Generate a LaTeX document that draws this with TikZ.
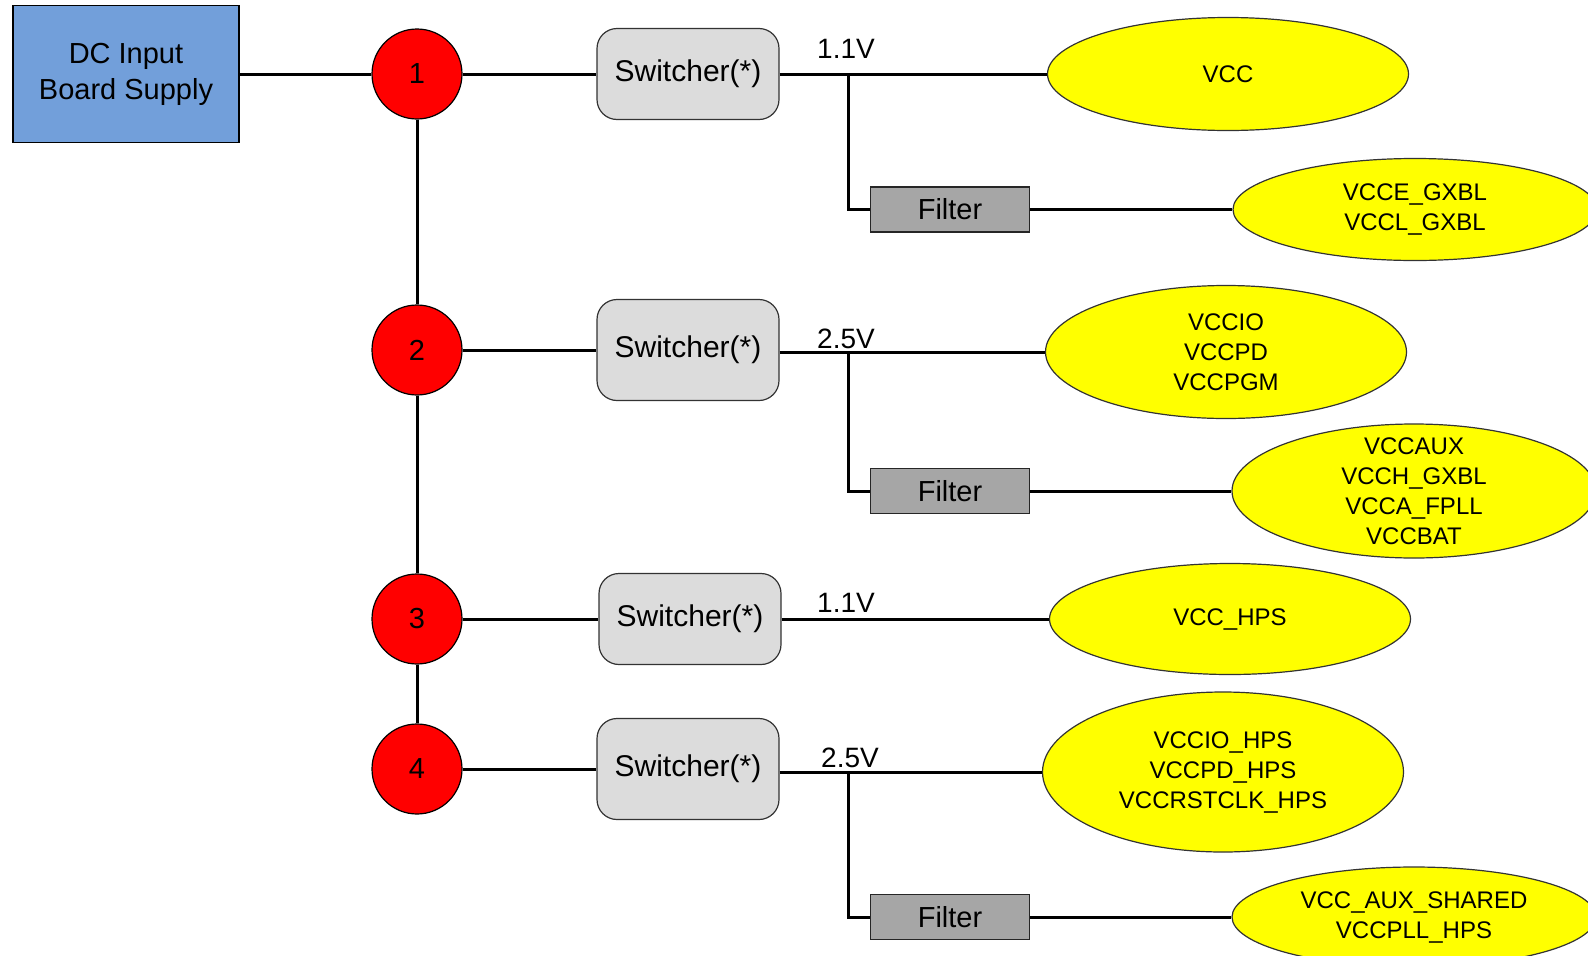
\documentclass[tikz,border=0pt]{standalone}
\usepackage{fontspec}
\setmainfont{Liberation Sans}
\usetikzlibrary{shapes.geometric}
\definecolor{dcblue}{RGB}{114,159,218}
\definecolor{swgrey}{RGB}{220,220,220}
\definecolor{flgrey}{RGB}{166,166,166}
\definecolor{railyellow}{RGB}{255,255,0}
\tikzset{
  conn/.style={line width=3pt, black},
  dcbox/.style={draw=black, line width=1.5pt, fill=dcblue, minimum width=226pt, minimum height=137pt, inner sep=0pt, align=center, font=\fontsize{29}{36}\selectfont},
  hub/.style={circle, draw=black, line width=1.2pt, fill=red, minimum size=90pt, inner sep=0pt, font=\fontsize{29}{32}\selectfont},
  switcher/.style={draw=black!80, line width=1.2pt, fill=swgrey, rounded corners=20pt, minimum width=182pt, minimum height=91pt, inner sep=0pt, font=\fontsize{30}{34}\selectfont},
  filterbox/.style={draw=black!85, line width=1.5pt, fill=flgrey, minimum width=159pt, minimum height=45pt, inner sep=0pt, font=\fontsize{29}{32}\selectfont},
  rail/.style={ellipse, draw=black!80, line width=1.2pt, fill=railyellow, inner sep=0pt, align=center, font=\fontsize{24}{30}\selectfont},
  volt/.style={anchor=base, inner sep=0pt, font=\fontsize{28}{32}\selectfont}
}
\begin{document}
\begin{tikzpicture}[x=1pt,y=-1pt]
\useasboundingbox (0,0) rectangle (1588,956);
\clip (0,0) rectangle (1588,956);
\fill[white] (0,0) rectangle (1588,956);

% nodes
\node[dcbox] (dc) at (126,74) {DC Input\\Board Supply};
\node[hub] (c1) at (417,74) {1};
\node[hub] (c2) at (417,350) {2};
\node[hub] (c3) at (417,619) {3};
\node[hub] (c4) at (417,769) {4};

\node[switcher] (s1) at (688,74) {Switcher(*)};
\node[switcher, minimum height=101pt] (s2) at (688,350) {Switcher(*)};
\node[switcher] (s3) at (690,619) {Switcher(*)};
\node[switcher, minimum height=101pt] (s4) at (688,769) {Switcher(*)};

\node[filterbox] (f1) at (950,209.5) {Filter};
\node[filterbox] (f2) at (950,491) {Filter};
\node[filterbox] (f4) at (950,917) {Filter};

\node[rail, minimum width=361pt, minimum height=113pt] (e1) at (1228,74) {VCC};
\node[rail, minimum width=364pt, minimum height=102pt] (e1b) at (1415,209.5) {VCCE\_GXBL\\VCCL\_GXBL};
\node[rail, minimum width=361pt, minimum height=133pt, inner ysep=-4pt] (e2) at (1226,352) {VCCIO\\VCCPD\\VCCPGM};
\node[rail, minimum width=364pt, minimum height=134pt, inner ysep=-12pt] (e2b) at (1414,491) {VCCAUX\\VCCH\_GXBL\\VCCA\_FPLL\\VCCBAT};
\node[rail, minimum width=361pt, minimum height=111pt] (e3) at (1230,619) {VCC\_HPS};
\node[rail, minimum width=361pt, minimum height=160pt] (e4) at (1223,772) {VCCIO\_HPS\\VCCPD\_HPS\\VCCRSTCLK\_HPS};
\node[rail, minimum width=364pt, minimum height=100pt] (e4b) at (1414,917) {VCC\_AUX\_SHARED\\VCCPLL\_HPS};

% voltage labels
\node[volt] (v1) at (846,58) {1.1V};
\node[volt] (v2) at (846,348) {2.5V};
\node[volt] (v3) at (846,612) {1.1V};
\node[volt] (v4) at (850,767) {2.5V};

% branch points
\coordinate (b1) at (848,74);
\coordinate (b2) at (848,352);
\coordinate (b4) at (848,772);

% connectors
\draw[conn] (dc.east) -- (c1.west);
\draw[conn] (c1.east) -- (s1.west);
\draw[conn] (c2.east) -- (s2.west);
\draw[conn] (c3.east) -- (s3.west);
\draw[conn] (c4.east) -- (s4.west);
\draw[conn] (c1.south) -- (c2.north);
\draw[conn] (c2.south) -- (c3.north);
\draw[conn] (c3.south) -- (c4.north);

\draw[conn] (s1.east) -- (e1.west);
\draw[conn] (s2.east |- e2.west) -- (e2.west);
\draw[conn] (s3.east) -- (e3.west);
\draw[conn] (s4.east |- e4.west) -- (e4.west);

\draw[conn] (b1) |- (f1.west);
\draw[conn] (b2) |- (f2.west);
\draw[conn] (b4) |- (f4.west);

\draw[conn] (f1.east) -- (e1b.west);
\draw[conn] (f2.east) -- (e2b.west);
\draw[conn] (f4.east) -- (e4b.west);
\end{tikzpicture}
\end{document}
